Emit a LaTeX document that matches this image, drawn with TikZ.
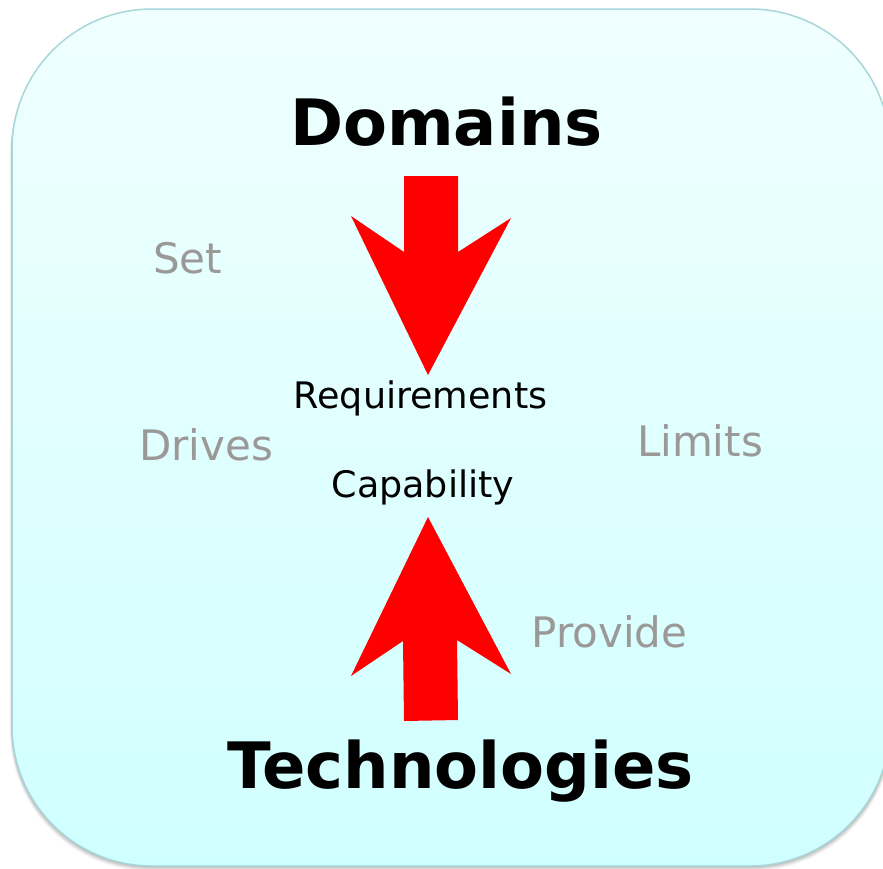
\documentclass[tikz,border=0pt]{standalone}
\usepackage{fontspec}
\setmainfont{DejaVu Sans}
\definecolor{boxedge}{RGB}{168,214,218}
\definecolor{boxtop}{RGB}{240,255,255}
\definecolor{boxbot}{RGB}{208,255,255}
\definecolor{lbl}{RGB}{155,152,152}
\definecolor{arr}{RGB}{255,0,0}
\tikzset{
  title/.style={font=\bfseries\fontsize{64}{64}\selectfont, inner sep=0pt, anchor=base},
  term/.style={font=\fontsize{36.5}{36.5}\selectfont, inner sep=0pt, anchor=base},
  verb/.style={font=\fontsize{42}{42}\selectfont, text=lbl, inner sep=0pt, anchor=base},
  bigarrow/.style={fill=arr, draw=none},
  panel/.style={rounded corners=140pt},
}
\begin{document}
\begin{tikzpicture}[x=1pt,y=-1pt]
\useasboundingbox (0,0) rectangle (883,868);
\begin{scope}
  \clip (0,0) rectangle (883,868);
  \foreach \d/\o in {1/0.07,2/0.07,3/0.06,4/0.05,5/0.04}
    \fill[black, opacity=\o, panel] (12-\d*0.4,9+\d) rectangle (890+\d*0.4,866+\d);
  \draw[panel, line width=1.5pt, draw=boxedge, top color=boxtop, bottom color=boxbot]
    (12,9) rectangle (890,866);
\end{scope}
% down arrow
\fill[bigarrow] (404,176) -- (458,176) -- (458,252) -- (511,218) -- (428,375)
  -- (351,216) -- (404,252) -- cycle;
% up arrow
\fill[bigarrow] (428,517) -- (511,674) -- (457,640) -- (458,720) -- (404,721)
  -- (403,641) -- (351,676) -- cycle;
\node[title] (dom) at (446.5,145) {Domains};
\node[title] (tech) at (460.5,788) {Technologies};
\node[term] (req) at (420.5,408) {Requirements};
\node[term] (cap) at (423,497) {Capability};
\node[verb] (set) at (187.5,273) {Set};
\node[verb] (drv) at (206,460) {Drives};
\node[verb] (lim) at (700,456) {Limits};
\node[verb] (prv) at (609.5,647) {Provide};
\end{tikzpicture}
\end{document}
